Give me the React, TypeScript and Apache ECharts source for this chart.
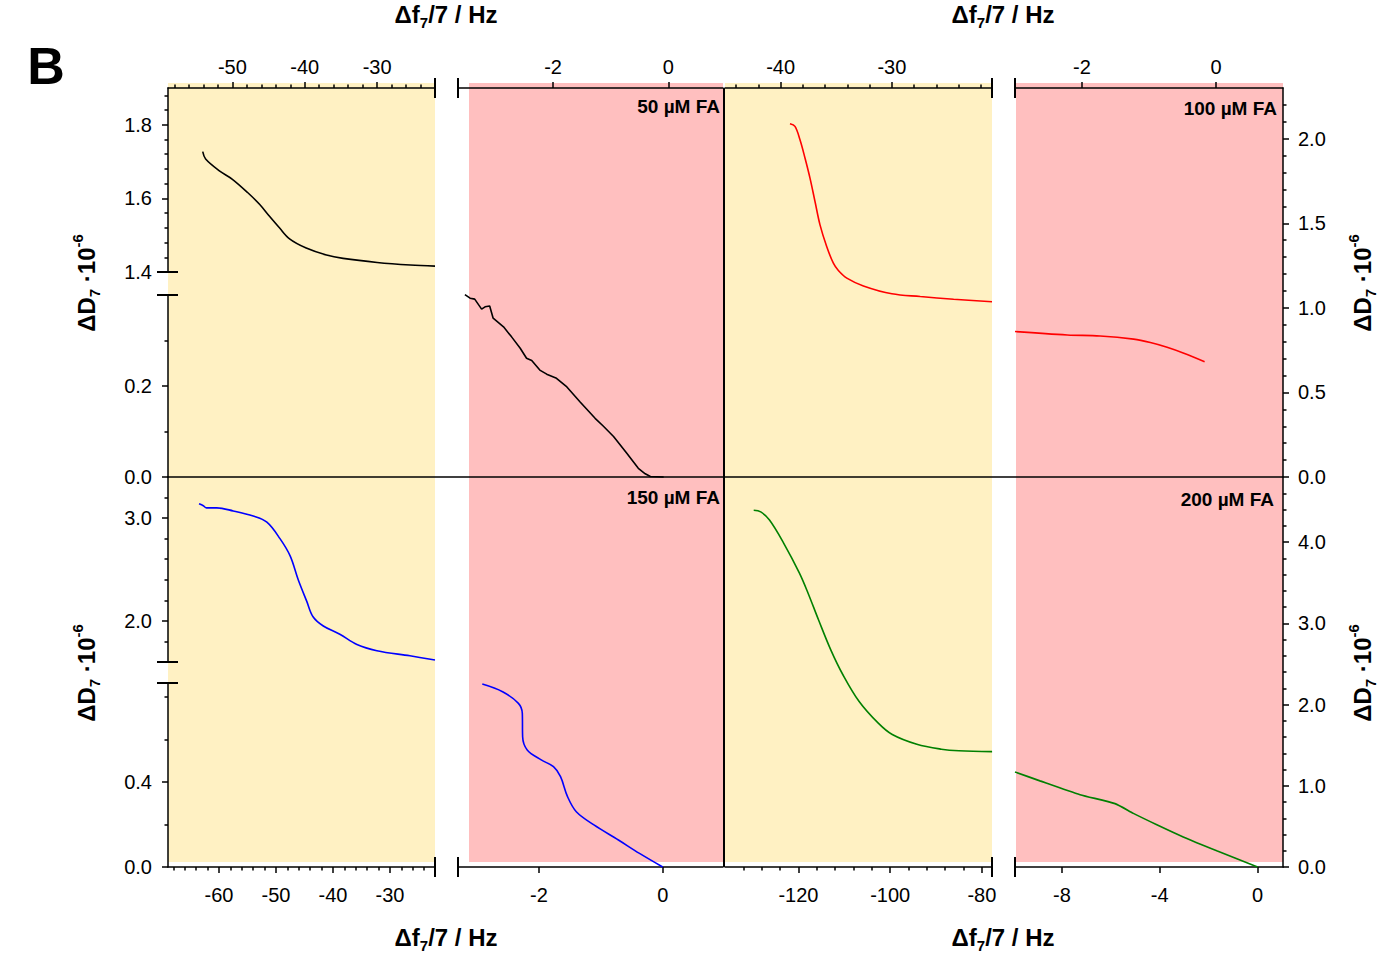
import { useEffect, useRef } from 'react';
import * as echarts from 'echarts';

// ---- data: [Δf7/7 (Hz), ΔD7 (·10^-6)] ----
const fa50Left: [number, number][] = [
  [-54.1, 1.727], [-53.7, 1.707], [-51.8, 1.675], [-50.0, 1.652], [-47.9, 1.616], [-46.25, 1.584],
  [-44.9, 1.552], [-43.5, 1.52], [-42.1, 1.49], [-39.8, 1.465], [-37.0, 1.446], [-34.7, 1.437],
  [-30.0, 1.426], [-25.4, 1.419], [-22.0, 1.416],
];
const fa50Right: [number, number][] = [
  [-3.53, 0.401], [-3.44, 0.393], [-3.36, 0.391], [-3.24, 0.369], [-3.18, 0.374], [-3.1, 0.376],
  [-3.04, 0.349], [-2.86, 0.33], [-2.72, 0.308], [-2.57, 0.283], [-2.46, 0.261], [-2.37, 0.256],
  [-2.23, 0.235], [-2.11, 0.226], [-1.94, 0.217], [-1.76, 0.198], [-1.53, 0.165], [-1.27, 0.129],
  [-1.13, 0.112], [-0.95, 0.089], [-0.72, 0.052], [-0.52, 0.019], [-0.4, 0.007], [-0.31, 0.001],
  [-0.08, 0.0],
];
const fa100Left: [number, number][] = [
  [-39.16, 2.089], [-38.71, 2.073], [-38.26, 1.994], [-37.81, 1.886], [-37.36, 1.767], [-36.91, 1.629],
  [-36.46, 1.491], [-35.86, 1.363], [-35.26, 1.264], [-34.81, 1.221], [-34.05, 1.176], [-32.56, 1.13],
  [-30.0, 1.083], [-27.45, 1.067], [-24.45, 1.051], [-21.0, 1.036],
];
const fa100Right: [number, number][] = [
  [-3.0, 0.86], [-2.22, 0.84], [-1.73, 0.834], [-1.23, 0.815], [-0.98, 0.795], [-0.73, 0.767],
  [-0.48, 0.732], [-0.17, 0.682],
];
const fa150Left: [number, number][] = [
  [-63.5, 3.139], [-62.75, 3.12], [-62.2, 3.1], [-60.4, 3.1], [-57.5, 3.07], [-54.0, 3.02],
  [-51.6, 2.96], [-49.3, 2.8], [-47.5, 2.63], [-46.1, 2.4], [-44.6, 2.19], [-43.5, 2.04],
  [-41.7, 1.95], [-38.8, 1.87], [-35.8, 1.77], [-32.3, 1.71], [-26.5, 1.66], [-22.1, 1.62],
];
const fa150Right: [number, number][] = [
  [-2.917, 0.861], [-2.589, 0.825], [-2.333, 0.77], [-2.27, 0.723], [-2.265, 0.613], [-2.191, 0.551],
  [-1.964, 0.504], [-1.766, 0.472], [-1.652, 0.425], [-1.539, 0.331], [-1.397, 0.26], [-1.112, 0.198],
  [-0.716, 0.127], [-0.375, 0.064], [0.0, 0.0],
];
const fa200Left: [number, number][] = [
  [-129.74, 4.39], [-128.21, 4.37], [-126.3, 4.27], [-123.25, 3.99], [-119.8, 3.62], [-117.89, 3.37],
  [-115.6, 3.04], [-112.92, 2.67], [-110.24, 2.36], [-106.8, 2.04], [-102.59, 1.77], [-99.54, 1.63],
  [-94.18, 1.51], [-88.85, 1.45], [-85.01, 1.43], [-77.78, 1.42],
];
const fa200Right: [number, number][] = [
  [-9.92, 1.17], [-8.9, 1.06], [-7.26, 0.89], [-5.83, 0.78], [-5.08, 0.66], [-4.12, 0.52],
  [-3.04, 0.37], [-1.67, 0.2], [0.0, 0.0],
];

// ---- tick labels ----
const ticksTopP1 = [-50, -40, -30];
const ticksTopP2 = [-2, 0];
const ticksTopP3 = [-40, -30];
const ticksTopP4 = [-2, 0];
const ticksBotP1 = [-60, -50, -40, -30];
const ticksBotP2 = [-2, 0];
const ticksBotP3 = [-120, -100, -80];
const ticksBotP4 = [-8, -4, 0];
const ticksLeftTopUpper = [1.4, 1.6, 1.8];
const ticksLeftTopLower = [0, 0.2];
const ticksLeftBotUpper = [2, 3];
const ticksLeftBotLower = [0, 0.4];
const ticksRightTop = [0, 0.5, 1, 1.5, 2];
const ticksRightBot = [0, 1, 2, 3, 4];

const FONT = "'Liberation Sans', Arial, Helvetica, sans-serif";
const AX = { color: '#000', width: 1.5 };
const YELLOW = '#FFF1C3';
const PINK = '#FFBFBF';

function steps(from: number, to: number, step: number, skip: number[]): number[] {
  const out: number[] = [];
  const n = Math.round((to - from) / step);
  for (let i = 0; i <= n; i++) {
    const v = Math.round((from + i * step) * 1000) / 1000;
    if (!skip.some((s) => Math.abs(s - v) < 1e-6)) out.push(v);
  }
  return out;
}

type Cfg = {
  min: number; max: number; position: string; offset?: number; majors: number[]; minors?: number[];
  margin?: number; fmt?: (v: number) => string; show?: boolean;
};

function axisPair(gridIndex: number, cfg: Cfg): any[] {
  const show = cfg.show !== false;
  const base: any = {
    type: 'value', gridIndex, min: cfg.min, max: cfg.max, position: cfg.position, offset: cfg.offset || 0,
    splitLine: { show: false }, silent: true, axisPointer: { show: false },
  };
  const main: any = {
    ...base, show,
    axisLine: { show: true, onZero: false, lineStyle: AX },
    axisTick: { show: true, inside: false, length: 6, customValues: cfg.majors, lineStyle: AX },
    axisLabel: {
      show: true, customValues: cfg.majors, formatter: cfg.fmt, margin: cfg.margin ?? 10,
      fontSize: 20, color: '#000', fontFamily: FONT,
    },
  };
  const arr = [main];
  if (show && cfg.minors && cfg.minors.length) {
    arr.push({
      ...base, show: true,
      axisLine: { show: false, onZero: false },
      axisTick: { show: true, inside: false, length: 3.5, customValues: cfg.minors, lineStyle: AX },
      axisLabel: { show: false },
    });
  }
  return arr;
}

const fx = (v: number) => String(v);
const fy = (v: number) => v.toFixed(1);

export default function App() {
  const ref = useRef<HTMLDivElement>(null);
  useEffect(() => {
    if (!ref.current) return;
    const chart = echarts.init(ref.current, null, { renderer: 'svg' });

    const grids = [
      { left: 168, top: 88, width: 267, height: 184 },   // 0 top P1 (upper segment)
      { left: 458, top: 295, width: 265, height: 182 },  // 1 top P2 (lower segment)
      { left: 725, top: 88, width: 267, height: 389 },   // 2 top P3
      { left: 1015, top: 88, width: 268, height: 389 },  // 3 top P4
      { left: 168, top: 477, width: 267, height: 185 },  // 4 bottom P1
      { left: 458, top: 683, width: 265, height: 184 },  // 5 bottom P2
      { left: 725, top: 477, width: 267, height: 390 },  // 6 bottom P3
      { left: 1015, top: 477, width: 268, height: 390 }, // 7 bottom P4
    ].map((g) => ({ ...g, containLabel: false, outerBoundsMode: 'none', show: false }));

    const xAxis: any[] = [];
    const yAxis: any[] = [];
    const addX = (g: number, c: Cfg) => { const i = xAxis.length; xAxis.push(...axisPair(g, c)); return i; };
    const addY = (g: number, c: Cfg) => { const i = yAxis.length; yAxis.push(...axisPair(g, c)); return i; };

    const TOPM = 11, BOTM = 18, LM = 16, RM = 15;
    const x0 = addX(0, { min: -58.9, max: -22, position: 'top', majors: ticksTopP1, minors: steps(-58, -24, 2, ticksTopP1), margin: TOPM, fmt: fx });
    const y0 = addY(0, { min: 1.4, max: 1.9, position: 'left', majors: ticksLeftTopUpper, minors: steps(1.44, 1.88, 0.04, ticksLeftTopUpper), margin: LM, fmt: fy });
    const x1 = addX(1, { min: -3.65, max: 0.95, position: 'top', offset: 207, majors: ticksTopP2, margin: TOPM, fmt: fx });
    const y1 = addY(1, { min: 0, max: 0.4, position: 'left', offset: 290, majors: ticksLeftTopLower, minors: [0.1, 0.3], margin: LM, fmt: fy });
    const x2 = addX(2, { min: -45, max: -21, position: 'top', majors: ticksTopP3, minors: steps(-44, -22, 2, ticksTopP3), margin: TOPM, fmt: fx });
    const y2 = addY(2, { min: 0, max: 2.3, position: 'right', majors: ticksRightTop, show: false });
    const x3 = addX(3, { min: -3, max: 1, position: 'top', majors: ticksTopP4, margin: TOPM, fmt: fx });
    const y3 = addY(3, { min: 0, max: 2.3, position: 'right', majors: ticksRightTop, minors: steps(0.1, 2.2, 0.1, ticksRightTop), margin: RM, fmt: fy });
    const x4 = addX(4, { min: -68.95, max: -22.1, position: 'bottom', offset: 205, majors: ticksBotP1, minors: steps(-68, -24, 2, ticksBotP1), margin: BOTM, fmt: fx });
    const y4 = addY(4, { min: 1.6, max: 3.4, position: 'left', majors: ticksLeftBotUpper, minors: [1.8, 2.2, 2.4, 2.6, 2.8, 3.2], margin: LM, fmt: fy });
    const x5 = addX(5, { min: -3.31, max: 0.975, position: 'bottom', majors: ticksBotP2, margin: BOTM, fmt: fx });
    const y5 = addY(5, { min: 0, max: 0.866, position: 'left', offset: 290, majors: ticksLeftBotLower, minors: [0.2, 0.6, 0.8], margin: LM, fmt: fy });
    const x6 = addX(6, { min: -136, max: -77.8, position: 'bottom', majors: ticksBotP3, minors: steps(-132, -84, 4, ticksBotP3), margin: BOTM, fmt: fx });
    const y6 = addY(6, { min: 0, max: 4.8, position: 'right', majors: ticksRightBot, show: false });
    const x7 = addX(7, { min: -9.92, max: 1.04, position: 'bottom', majors: ticksBotP4, margin: BOTM, fmt: fx });
    const y7 = addY(7, { min: 0, max: 4.8, position: 'right', majors: ticksRightBot, minors: steps(0.2, 4.6, 0.2, ticksRightBot), margin: RM, fmt: fy });

    const line = (data: [number, number][], xi: number, yi: number, color: string, smooth: number) => ({
      type: 'line', data, xAxisIndex: xi, yAxisIndex: yi, symbol: 'none', showSymbol: false,
      smooth: smooth > 0 ? smooth : false, clip: false, silent: true, z: 5,
      lineStyle: { color, width: 1.6 },
    });

    const series = [
      line(fa50Left, x0, y0, '#000000', 0.35),
      line(fa50Right, x1, y1, '#000000', 0),
      line(fa100Left, x2, y2, '#FF0000', 0.35),
      line(fa100Right, x3, y3, '#FF0000', 0.35),
      line(fa150Left, x4, y4, '#0000FF', 0.35),
      line(fa150Right, x5, y5, '#0000FF', 0.35),
      line(fa200Left, x6, y6, '#008000', 0.35),
      line(fa200Right, x7, y7, '#008000', 0.2),
    ];

    const bg = (x: number, w: number, fill: string) => ({
      type: 'rect', z: -5, silent: true, shape: { x, y: 83, width: w, height: 779 }, style: { fill },
    });
    const seg = (x1: number, y1: number, x2: number, y2: number, w = 2) => ({
      type: 'line', z: 10, silent: true, shape: { x1, y1, x2, y2 }, style: { stroke: '#000', lineWidth: w },
    });
    const richTitle = {
      m: { fontSize: 24, fontWeight: 'bold', fontFamily: FONT, lineHeight: 32, fill: '#000' },
      s: { fontSize: 15, fontWeight: 'bold', fontFamily: FONT, lineHeight: 15, verticalAlign: 'bottom', fill: '#000' },
      p: { fontSize: 15, fontWeight: 'bold', fontFamily: FONT, lineHeight: 15, verticalAlign: 'top', fill: '#000' },
    };
    const xTitle = (x: number, y: number) => ({
      type: 'text', z: 10, silent: true, x, y,
      style: { text: '{m|\u0394f}{s|7}{m|/7 / Hz}', rich: richTitle, align: 'center', verticalAlign: 'middle', fill: '#000' },
    });
    const yTitle = (x: number, y: number) => ({
      type: 'text', z: 10, silent: true, x, y, rotation: Math.PI / 2,
      style: { text: '{m|\u0394D}{s|7}{m| \u00B710}{p|-6}', rich: richTitle, align: 'center', verticalAlign: 'middle', fill: '#000' },
    });
    const conc = (text: string, x: number, y: number) => ({
      type: 'text', z: 10, silent: true, x, y,
      style: { text, fontSize: 19, fontWeight: 'bold', fontFamily: FONT, fill: '#000', align: 'right', verticalAlign: 'middle' },
    });

    const graphic = [
      bg(168, 267, YELLOW), bg(469, 254, PINK), bg(725, 267, YELLOW), bg(1016, 267, PINK),
      seg(167, 477, 1283, 477, 1.5),
      seg(724, 88, 724, 867, 2),
      // x-axis break bars
      ...[435, 458, 992, 1015].flatMap((x) => [seg(x, 78, x, 98), seg(x, 857, x, 877)]),
      // y-axis break bars
      ...[272, 295, 662, 683].map((y) => seg(157, y, 178, y)),
      xTitle(446, 14), xTitle(1003, 14), xTitle(446, 937), xTitle(1003, 937),
      yTitle(86, 283), yTitle(86, 673), yTitle(1362, 283), yTitle(1362, 673),
      conc('50 \u00B5M FA', 720, 106), conc('100 \u00B5M FA', 1277, 108),
      conc('150 \u00B5M FA', 720, 497), conc('200 \u00B5M FA', 1274, 499),
      {
        type: 'text', z: 10, silent: true, x: 46, y: 66,
        style: { text: 'B', fontSize: 52, fontWeight: 'bold', fontFamily: FONT, fill: '#000', align: 'center', verticalAlign: 'middle' },
      },
    ];

    chart.setOption({
      animation: false,
      backgroundColor: '#fff',
      grid: grids,
      xAxis,
      yAxis,
      series,
      graphic,
    });
    return () => chart.dispose();
  }, []);

  return (
    <div
      ref={ref}
      style={{ position: 'fixed', left: 0, top: 0, width: 1380, height: 962, background: '#fff' }}
    />
  );
}
